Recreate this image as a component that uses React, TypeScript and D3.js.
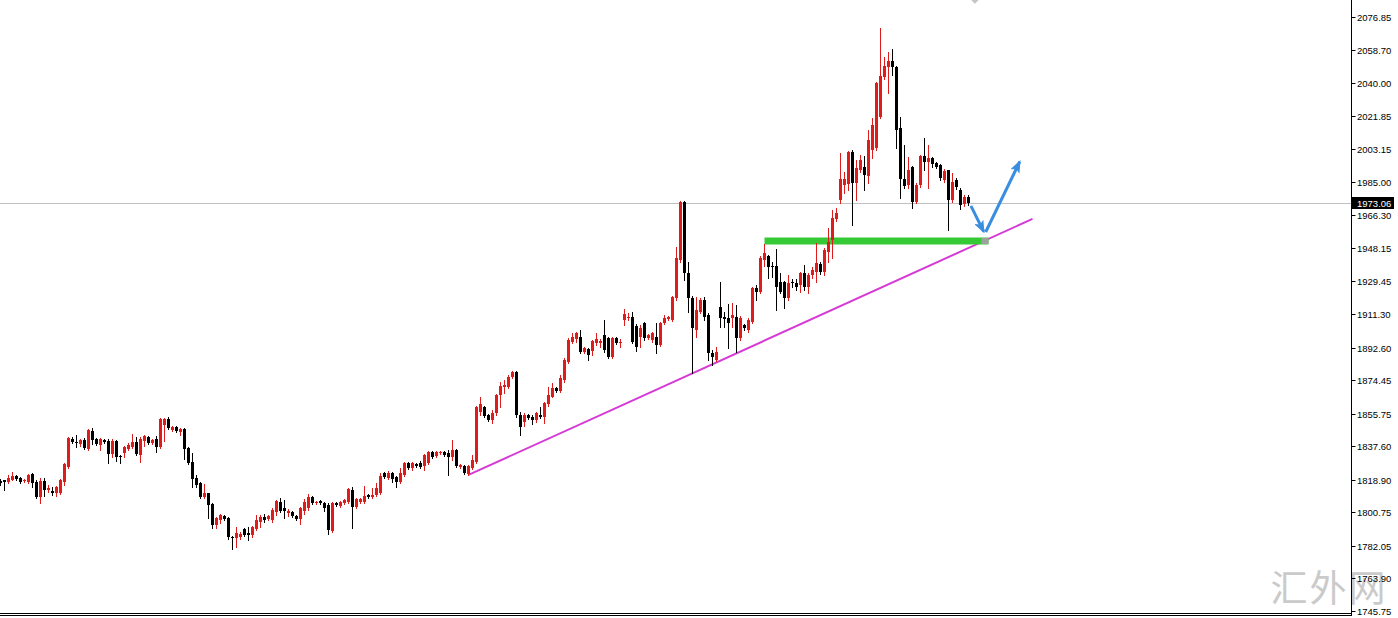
import React from 'react';
import * as d3 from 'd3';

const W = 1398;
const H = 618;

// OHLC values (one entry per candle, oldest first)
const opens = [
1818.2,1818.8,1817.7,1818.8,1821.0,1819.9,1818.2,1817.7,1822.1,1817.7,
1809.3,1818.2,1813.2,1812.6,1811.5,1811.5,1817.7,1826.0,1841.6,1839.9,
1838.8,1841.1,1836.0,1846.1,1841.6,1838.3,1841.1,1840.5,1833.2,1840.5,
1832.1,1833.8,1836.0,1837.2,1839.9,1832.7,1840.5,1842.7,1839.4,1841.6,
1837.2,1849.5,1852.8,1846.6,1848.3,1845.5,1847.2,1836.6,1828.8,1819.9,
1817.1,1809.3,1811.5,1805.4,1793.7,1796.5,1798.7,1797.6,1787.0,1786.4,
1787.0,1791.4,1789.2,1788.1,1791.4,1795.3,1798.1,1797.0,1796.5,1800.9,
1806.5,1803.1,1800.3,1800.9,1798.7,1797.0,1801.5,1803.1,1809.3,1805.9,
1807.0,1805.9,1804.8,1790.3,1805.9,1804.2,1805.9,1806.5,1813.2,1803.7,
1806.5,1806.5,1810.4,1809.3,1810.4,1811.5,1822.7,1819.9,1822.7,1820.4,
1817.7,1821.6,1828.2,1825.4,1827.7,1828.2,1826.5,1828.2,1834.4,1832.1,
1833.8,1834.4,1833.8,1831.6,1835.5,1826.0,1826.5,1822.1,1825.4,1828.8,
1856.7,1859.5,1855.0,1852.2,1856.1,1866.2,1870.6,1870.6,1876.2,1879.0,
1855.0,1851.1,1855.0,1853.9,1852.2,1855.0,1853.9,1861.1,1865.0,1870.1,
1868.4,1874.5,1884.6,1895.7,1897.4,1898.5,1890.1,1891.8,1890.6,1895.1,
1895.1,1899.6,1897.9,1887.3,1897.9,1895.1,1907.9,1909.1,1909.6,1904.6,
1898.5,1906.3,1897.9,1896.8,1898.5,1894.0,1906.3,1908.5,1908.0,1920.3,
1941.4,1973.8,1934.2,1920.3,1902.4,1912.5,1919.1,1910.8,1889.6,1885.7,
1915.3,1909.7,1909.1,1909.1,1909.7,1898.0,1905.2,1902.4,1906.9,1925.8,
1923.6,1941.5,1943.7,1938.1,1938.1,1929.2,1929.2,1920.3,1929.2,1928.6,
1927.5,1934.2,1926.4,1933.1,1934.8,1939.2,1934.8,1945.9,1952.6,1964.3,
1974.9,1983.2,1983.8,2001.6,1984.3,1991.6,1993.2,1988.2,2002.7,2003.8,
2021.1,2043.4,2049.0,2052.3,2049.0,2015.0,1986.6,1983.2,1993.2,1973.7,
1983.2,1999.4,1996.0,1998.3,1995.5,1994.4,1986.0,1991.6,1974.9,1986.0,
1980.4,1972.6,1976.5
];
const highs = [
1819.3,1819.0,1821.6,1823.2,1821.6,1820.4,1819.3,1822.1,1822.7,1818.8,
1819.9,1819.9,1816.0,1814.8,1815.4,1819.3,1828.2,1842.7,1842.7,1843.9,
1841.6,1842.2,1847.2,1847.8,1842.2,1842.2,1841.6,1841.6,1841.6,1840.8,
1832.7,1837.7,1839.4,1844.4,1842.7,1842.7,1843.9,1843.3,1841.6,1843.3,
1853.4,1853.4,1853.9,1848.9,1848.9,1847.8,1847.8,1837.2,1833.8,1821.6,
1817.7,1816.5,1811.8,1805.9,1798.1,1799.8,1799.2,1797.9,1787.5,1792.5,
1789.8,1792.0,1792.5,1793.1,1799.2,1799.2,1799.8,1799.2,1803.1,1807.6,
1808.7,1807.6,1802.6,1801.5,1799.2,1803.7,1808.2,1810.9,1809.8,1807.0,
1807.6,1806.5,1805.9,1806.5,1806.5,1807.0,1808.2,1814.3,1814.8,1808.7,
1808.7,1815.4,1810.9,1814.3,1817.1,1822.7,1823.2,1823.8,1823.2,1821.0,
1825.4,1828.8,1828.8,1828.8,1828.2,1829.3,1833.2,1834.9,1834.9,1834.9,
1834.9,1834.9,1835.5,1841.1,1836.0,1827.7,1827.1,1827.1,1832.7,1860.0,
1865.0,1860.0,1855.6,1857.8,1866.7,1873.4,1874.5,1877.3,1879.5,1879.5,
1856.7,1856.1,1855.6,1855.0,1856.7,1859.5,1862.3,1870.6,1872.8,1870.6,
1877.3,1886.8,1897.9,1900.7,1901.2,1902.4,1892.9,1892.3,1896.8,1900.7,
1897.4,1907.9,1898.5,1898.5,1898.5,1897.4,1914.1,1911.8,1912.4,1905.7,
1905.2,1906.8,1900.1,1901.2,1906.3,1906.8,1910.8,1910.2,1921.4,1948.7,
1974.3,1974.3,1940.3,1921.4,1920.8,1920.3,1920.8,1911.9,1891.3,1893.0,
1929.2,1912.5,1916.9,1917.5,1916.4,1910.2,1905.8,1909.1,1926.4,1927.5,
1943.7,1950.4,1944.2,1940.3,1947.6,1934.2,1929.7,1933.1,1930.9,1930.9,
1934.7,1938.7,1934.2,1937.6,1950.9,1940.3,1948.1,1959.3,1969.3,1970.4,
2001.0,1990.5,2002.0,2002.7,1997.2,1999.9,1999.4,2013.9,2020.6,2040.6,
2070.7,2054.6,2057.3,2059.0,2049.5,2021.1,2005.5,1998.8,1993.8,1984.3,
1999.9,2009.4,2005.5,1998.8,1996.0,1994.9,1992.1,1991.8,1989.9,1987.1,
1981.5,1977.6,1977.6
];
const lows = [
1816.0,1813.2,1817.1,1818.5,1818.8,1817.1,1817.7,1817.1,1814.8,1808.7,
1805.9,1809.8,1812.1,1810.4,1809.8,1811.0,1816.0,1825.4,1839.4,1837.2,
1837.7,1836.0,1835.5,1838.8,1838.3,1835.5,1839.4,1828.2,1831.6,1829.3,
1828.2,1831.6,1835.5,1836.6,1832.7,1828.8,1837.7,1838.8,1839.0,1834.4,
1836.8,1840.5,1847.2,1846.1,1845.5,1843.9,1830.5,1827.7,1814.8,1814.8,
1809.0,1808.7,1797.6,1792.0,1792.0,1794.8,1796.5,1785.9,1780.3,1781.4,
1785.9,1787.5,1785.3,1787.0,1790.9,1792.5,1795.3,1796.5,1795.3,1799.2,
1800.9,1797.6,1798.7,1798.1,1796.5,1794.2,1799.8,1802.0,1805.4,1805.4,
1805.4,1801.5,1788.6,1789.8,1804.2,1803.7,1805.4,1805.9,1792.0,1803.1,
1805.9,1805.9,1808.7,1808.7,1809.8,1810.9,1819.9,1819.3,1817.7,1814.8,
1817.1,1821.0,1824.9,1824.3,1826.0,1825.4,1824.3,1827.7,1831.0,1831.6,
1833.2,1832.1,1821.6,1829.9,1826.0,1825.4,1822.1,1821.6,1824.9,1828.2,
1855.0,1853.9,1851.7,1850.6,1855.0,1859.5,1867.3,1870.1,1875.6,1853.9,
1843.9,1848.9,1852.8,1850.0,1851.1,1853.4,1850.6,1860.0,1865.0,1867.8,
1867.8,1873.4,1884.0,1895.1,1895.7,1889.5,1889.5,1885.7,1888.5,1894.0,
1892.9,1890.1,1886.8,1886.8,1894.5,1892.9,1905.2,1907.9,1895.1,1890.6,
1892.9,1896.8,1897.4,1895.7,1889.5,1893.4,1905.7,1908.0,1907.4,1919.1,
1940.3,1930.3,1912.5,1878.5,1898.5,1911.9,1908.0,1885.7,1882.9,1885.2,
1904.1,1904.1,1892.4,1904.1,1890.2,1896.9,1902.4,1901.3,1906.3,1919.2,
1923.1,1938.1,1931.4,1932.0,1913.6,1923.1,1914.7,1919.2,1926.4,1924.7,
1923.6,1924.7,1923.1,1931.4,1929.2,1933.6,1933.1,1940.3,1942.6,1963.2,
1973.2,1978.8,1980.4,1960.9,1974.9,1990.5,1980.4,1984.3,1998.3,2002.7,
2020.6,2042.3,2034.5,2044.5,2003.8,1976.0,1981.5,1981.5,1970.4,1973.2,
1982.1,1991.6,1981.5,1993.2,1992.7,1986.0,1984.9,1958.1,1973.7,1981.0,
1969.8,1971.5,1972.1
];
const closes = [
1817.1,1817.7,1819.9,1821.0,1819.3,1817.7,1818.8,1821.6,1817.1,1809.3,
1818.2,1813.2,1814.3,1811.5,1814.8,1818.8,1827.7,1842.2,1839.9,1839.4,
1841.1,1836.6,1846.6,1841.1,1838.8,1841.6,1839.9,1833.2,1840.5,1831.6,
1831.6,1837.2,1838.3,1839.9,1833.2,1841.6,1843.3,1839.4,1841.1,1837.2,
1852.8,1852.8,1847.8,1848.3,1846.1,1847.2,1836.0,1828.2,1819.3,1816.0,
1809.3,1811.5,1804.8,1793.7,1797.6,1799.2,1797.0,1787.0,1786.4,1789.2,
1788.6,1788.1,1788.1,1792.5,1796.5,1798.1,1796.5,1798.7,1802.0,1807.0,
1801.5,1801.5,1801.5,1798.7,1797.0,1803.1,1806.5,1809.3,1805.9,1806.5,
1805.9,1803.1,1790.9,1805.9,1804.8,1806.5,1807.6,1813.7,1803.7,1808.2,
1808.2,1809.8,1809.3,1810.4,1814.3,1821.0,1820.4,1822.7,1819.3,1817.7,
1822.7,1828.2,1825.4,1828.2,1826.5,1826.0,1832.7,1834.4,1831.6,1834.4,
1834.4,1832.7,1831.6,1835.5,1826.5,1827.1,1822.7,1826.5,1829.9,1859.5,
1861.1,1854.5,1852.2,1856.1,1866.2,1871.2,1871.7,1876.2,1879.0,1855.0,
1848.3,1855.0,1853.4,1852.2,1856.1,1853.9,1861.7,1866.2,1870.1,1868.4,
1875.6,1885.7,1896.8,1898.5,1900.7,1890.1,1892.3,1888.5,1896.2,1897.4,
1896.2,1891.2,1887.3,1897.9,1895.1,1895.7,1911.3,1909.6,1895.7,1892.9,
1903.5,1897.9,1899.6,1900.7,1894.0,1906.3,1909.1,1909.6,1920.8,1942.6,
1973.8,1934.2,1920.3,1903.5,1913.6,1919.1,1909.6,1889.6,1887.4,1890.2,
1909.1,1908.6,1906.3,1910.8,1898.0,1909.1,1903.5,1908.0,1925.8,1923.6,
1942.6,1945.4,1937.6,1937.6,1926.4,1923.6,1920.3,1928.6,1928.6,1926.4,
1934.2,1926.4,1933.1,1935.9,1939.8,1934.8,1947.0,1951.5,1964.9,1967.7,
1986.6,1986.6,2001.6,1984.3,1992.7,1997.2,1988.8,2008.3,2016.7,2040.1,
2044.0,2049.5,2052.3,2049.0,2013.9,1986.6,1982.7,1991.6,1973.7,1983.2,
1999.4,1996.0,1998.3,1994.9,1993.2,1987.1,1991.0,1974.9,1984.9,1982.1,
1972.1,1976.5,1973.06
];

const tickLabels = [
  '2076.85','2058.70','2040.00','2021.85','2003.15','1985.00','1966.30',
  '1948.15','1929.45','1911.30','1892.60','1874.45','1855.75','1837.60',
  '1818.90','1800.75','1782.05','1763.90','1745.75'
];
const currentPrice = 1973.06;
const currentPriceLabel = '1973.06';

// annotations in (candle index, price)
const trendLine = [[117, 1821.6], [258, 1964.3]];
const supportLevel = [[191, 1952.0], [247, 1952.0]];
const arrowDown = [[242.6, 1971.6], [245.8, 1957.2]];
const arrowUp = [[246.3, 1957.0], [254.8, 1996.2]];
const topMarker = [243.6, 2087.0];
const watermark = '汇外网';

const RED = '#de1c1c';
const BLACK = '#000000';
const AXIS_X = 1351.5;

export default function App() {
  const n = opens.length;
  const x = d3.scaleLinear().domain([0, n - 1]).range([0.5, 0.5 + 4 * (n - 1)]);
  const y = d3.scaleLinear().domain([1745.75, 2076.85]).range([611, 17]);
  const line = d3.line<number[]>().x(d => x(d[0])).y(d => y(d[1]));

  const candles = d3.range(n).map(i => {
    const o = opens[i], c = closes[i], h = highs[i], l = lows[i];
    const up = c >= o;
    const col = up ? RED : BLACK;
    const cx = Math.round(x(i) - 0.5) + 0.5;
    const yTop = Math.round(y(Math.max(o, c)));
    const yBot = Math.round(y(Math.min(o, c)));
    const bh = Math.max(1, yBot - yTop);
    return (
      <g key={i}>
        <line x1={cx} x2={cx} y1={Math.round(y(h))} y2={Math.round(y(l)) + 1} stroke={col} strokeWidth={1} />
        <rect x={cx - 1.5} y={yTop} width={3} height={bh} fill={col} />
      </g>
    );
  });

  const cpY = Math.round(y(currentPrice)) + 0.5;
  const mx = x(topMarker[0]);
  const my = y(topMarker[1]);

  return (
    <svg width={W} height={H} style={{ position: 'absolute', left: 0, top: 0, background: '#fff' }}
      fontFamily="'Liberation Sans', Arial, sans-serif">
      <defs>
        <marker id="ah" markerUnits="userSpaceOnUse" markerWidth={13} markerHeight={10}
          refX={11} refY={5} orient="auto">
          <path d="M0,0 L13,5 L0,10 L3,5 z" fill="#3a8ee0" />
        </marker>
      </defs>
      <rect x={0} y={0} width={W} height={H} fill="#ffffff" />
      {/* watermark */}
      <text x={1329} y={602} textAnchor="middle" fontSize={37} fill="#cacaca" letterSpacing={2}
        fontFamily="'Noto Sans CJK SC', sans-serif">{watermark}</text>
      {/* current price line */}
      <line x1={0} x2={AXIS_X} y1={cpY} y2={cpY} stroke="#c0c0c0" strokeWidth={1} />
      {/* trend line */}
      <path d={line(trendLine) || ''} stroke="#d63ad6" strokeWidth={2} fill="none" />
      {/* support level */}
      <path d={line(supportLevel) || ''} stroke="#35c935" strokeWidth={7} fill="none" />
      <rect x={x(supportLevel[1][0]) - 7} y={y(supportLevel[1][1]) - 3} width={7} height={6} fill="#a0a0a0" />
      {candles}
      {/* arrows */}
      <path d={line(arrowDown) || ''} stroke="#3a8ee0" strokeWidth={3} fill="none" markerEnd="url(#ah)" />
      <path d={line(arrowUp) || ''} stroke="#3a8ee0" strokeWidth={3} fill="none" markerEnd="url(#ah)" />
      {/* top marker */}
      <path d={`M${mx - 5},${my} L${mx},${my - 5} L${mx + 5},${my} L${mx},${my + 5} Z`} fill="#c4c4c4" />
      {/* bottom lines */}
      <line x1={0} x2={AXIS_X + 0.5} y1={613.5} y2={613.5} stroke="#000" strokeWidth={1} />
      <line x1={0} x2={AXIS_X + 0.5} y1={615.5} y2={615.5} stroke="#000" strokeWidth={1} />
      {/* axis */}
      <line x1={AXIS_X} x2={AXIS_X} y1={0} y2={616} stroke="#000" strokeWidth={1} />
      {tickLabels.map(t => {
        const ty = Math.round(y(+t)) + 0.5;
        return (
          <g key={t}>
            <line x1={AXIS_X} x2={AXIS_X + 4} y1={ty} y2={ty} stroke="#000" strokeWidth={1} />
            <text x={1357} y={ty + 3.5} fontSize={9.5} fill="#000">{t}</text>
          </g>
        );
      })}
      {/* current price label */}
      <rect x={AXIS_X + 0.5} y={cpY - 6.5} width={42} height={12} fill="#000" />
      <text x={1357} y={cpY + 3.5} fontSize={9.5} fill="#fff">{currentPriceLabel}</text>
    </svg>
  );
}
